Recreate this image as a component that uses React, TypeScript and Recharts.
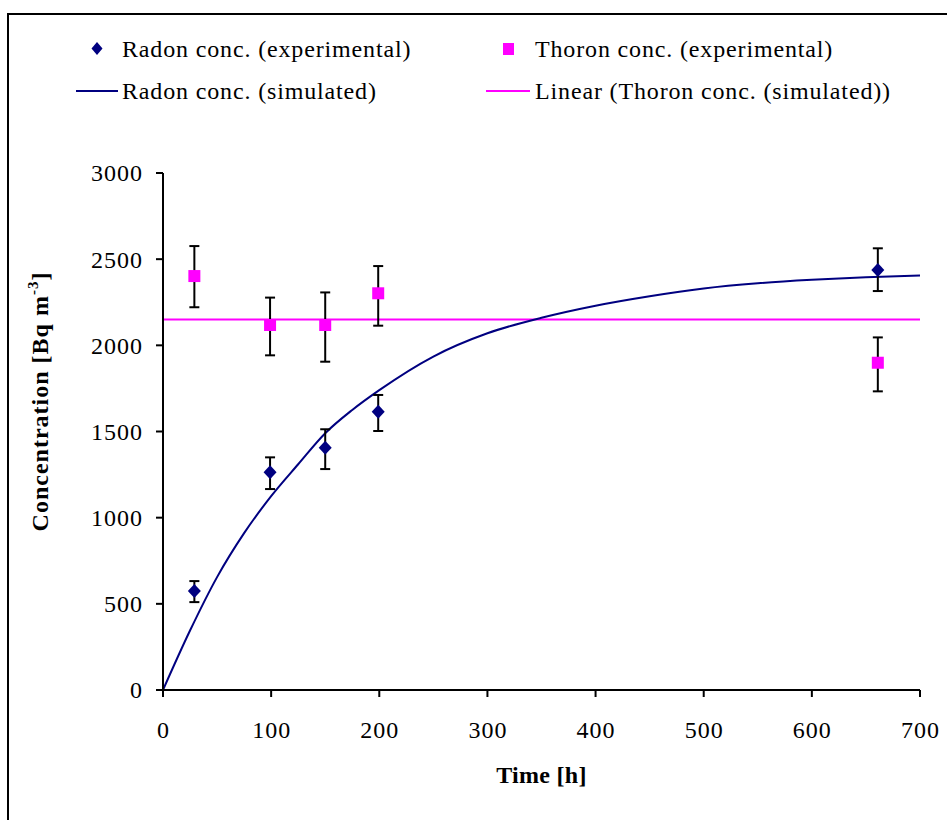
import React from 'react';
import { ComposedChart, Line, Scatter, XAxis, YAxis, ErrorBar, Legend } from 'recharts';

const FONT = '"Liberation Serif", "Times New Roman", Times, serif';
const NAVY = '#000080';
const MAGENTA = '#FF00FF';

// ---- data ----
const xTicks = [0, 100, 200, 300, 400, 500, 600, 700];
const yTicks = [0, 500, 1000, 1500, 2000, 2500, 3000];

const radonExpTime = [29, 99, 150, 199, 661];
const radonExpConc = [575, 1263, 1406, 1615, 2437];
const radonExpErrLow = [65, 97, 124, 112, 122];
const radonExpErrHigh = [57, 87, 107, 97, 126];

const thoronExpTime = [29, 99, 150, 199, 661];
const thoronExpConc = [2402, 2118, 2118, 2302, 1899];
const thoronExpErrLow = [181, 176, 213, 188, 166];
const thoronExpErrHigh = [174, 159, 189, 158, 147];

const radonSimTime = [0, 25, 50, 75, 100, 125, 150, 175, 200, 250, 300, 350, 400, 450, 500, 550, 600, 650, 700];
const radonSimConc = [0, 345, 655, 910, 1125, 1310, 1490, 1625, 1740, 1935, 2070, 2160, 2230, 2285, 2330, 2360, 2380, 2395, 2405];

const thoronLinTime = [0, 700];
const thoronLinConc = [2150, 2150];

const legendLabels = [
  'Radon conc. (experimental)',
  'Thoron conc. (experimental)',
  'Radon conc. (simulated)',
  'Linear (Thoron conc. (simulated))',
];

// ---- tables built from the arrays ----
const radonExp = radonExpTime.map((t, i) => ({ t, v: radonExpConc[i], err: [radonExpErrLow[i], radonExpErrHigh[i]] }));
const thoronExp = thoronExpTime.map((t, i) => ({ t, v: thoronExpConc[i], err: [thoronExpErrLow[i], thoronExpErrHigh[i]] }));
const radonSim = radonSimTime.map((t, i) => ({ t, v: radonSimConc[i] }));
const thoronLin = thoronLinTime.map((t, i) => ({ t, v: thoronLinConc[i] }));

const Diamond = (p: any) => {
  const { cx, cy } = p;
  if (cx == null || cy == null) return null;
  return <polygon points={`${cx},${cy - 7} ${cx + 6.5},${cy} ${cx},${cy + 7} ${cx - 6.5},${cy}`} fill={NAVY} />;
};
const Square = (p: any) => {
  const { cx, cy } = p;
  if (cx == null || cy == null) return null;
  return <rect x={cx - 6} y={cy - 6} width={12} height={12} fill={MAGENTA} />;
};

const YTick = (p: any) => (
  <text x={p.x} y={p.y} dy="0.35em" textAnchor="end" fontFamily={FONT} fontSize={24} fill="#000" letterSpacing={1}>
    {p.payload.value}
  </text>
);
const XTick = (p: any) => (
  <text x={p.x + 0.5} y={p.y + 39} textAnchor="middle" fontFamily={FONT} fontSize={24} fill="#000" letterSpacing={1}>
    {p.payload.value}
  </text>
);

const XTitle = (p: any) => {
  const vb = p.viewBox || { x: 163, y: 690, width: 757 };
  return (
    <text x={vb.x + vb.width / 2} y={vb.y + 93} textAnchor="middle" fontFamily={FONT} fontSize={24} fontWeight="bold" fill="#000" letterSpacing={0.3}>
      Time [h]
    </text>
  );
};
const YTitle = (p: any) => {
  const vb = p.viewBox || { x: 0, y: 173, width: 163, height: 517 };
  const cx = 48;
  const cy = vb.y + vb.height / 2 - 30;
  return (
    <text x={cx} y={cy} transform={`rotate(-90, ${cx}, ${cy})`} textAnchor="middle" fontFamily={FONT} fontSize={24} fontWeight="bold" fill="#000" letterSpacing={1}>
      Concentration [Bq m<tspan dy={-10} fontSize={15}>-3</tspan><tspan dy={10}>]</tspan>
    </text>
  );
};

const textStyle = { fontFamily: FONT, fontSize: 24, fill: '#000', letterSpacing: 0.85 } as const;

const LegendBox = () => (
  <svg width={947} height={120} style={{ display: 'block' }}>
    <polygon points="97,42 102.5,48.5 97,55 91.5,48.5" fill={NAVY} />
    <text x={122} y={57} {...textStyle}>{legendLabels[0]}</text>
    <rect x={503} y={43} width={11} height={12} fill={MAGENTA} />
    <text x={535} y={57} {...textStyle}>{legendLabels[1]}</text>
    <line x1={76} x2={118} y1={91} y2={91} stroke={NAVY} strokeWidth={2} />
    <text x={122} y={99} {...textStyle}>{legendLabels[2]}</text>
    <line x1={486} x2={530} y1={91} y2={91} stroke={MAGENTA} strokeWidth={2} />
    <text x={535} y={99} {...textStyle}>{legendLabels[3]}</text>
  </svg>
);

export default function App() {
  return (
    <div style={{ position: 'fixed', left: 0, top: 0, width: 947, height: 820, overflow: 'hidden', background: '#fff' }}>
      <div style={{ position: 'absolute', left: 7, top: 13, width: 2000, height: 2000, border: '2px solid #000', boxSizing: 'border-box' }} />
      <div style={{ position: 'absolute', left: 0, top: 0 }}>
        <ComposedChart width={947} height={820} margin={{ top: 173, right: 27, bottom: 70, left: 0 }}>
          <XAxis
            type="number"
            dataKey="t"
            domain={[0, 700]}
            ticks={xTicks}
            interval={0}
            allowDataOverflow
            stroke="#000"
            strokeWidth={2}
            tickSize={7}
            tickMargin={2}
            height={60}
            tick={<XTick />}
            tickLine={{ stroke: '#000', strokeWidth: 2 }}
            label={<XTitle />}
          />
          <YAxis
            type="number"
            domain={[0, 3000]}
            ticks={yTicks}
            interval={0}
            allowDataOverflow
            width={163}
            stroke="#000"
            strokeWidth={2}
            tickSize={7}
            tickMargin={13}
            tick={<YTick />}
            tickLine={{ stroke: '#000', strokeWidth: 2 }}
            label={<YTitle />}
          />
          <Legend
            layout="vertical"
            verticalAlign="middle"
            align="center"
            content={() => <LegendBox />}
            wrapperStyle={{ position: 'absolute', left: 0, top: 0, width: 947, height: 120 }}
          />
          <Line data={thoronLin} dataKey="v" stroke={MAGENTA} strokeWidth={2} dot={false} isAnimationActive={false} legendType="none" />
          <Line data={radonSim} dataKey="v" type="monotone" stroke={NAVY} strokeWidth={2} dot={false} isAnimationActive={false} legendType="none" />
          <Scatter data={radonExp} dataKey="v" shape={<Diamond />} isAnimationActive={false} legendType="none">
            <ErrorBar dataKey="err" direction="y" width={5} stroke="#000" strokeWidth={2} isAnimationActive={false} />
          </Scatter>
          <Scatter data={thoronExp} dataKey="v" shape={<Square />} isAnimationActive={false} legendType="none">
            <ErrorBar dataKey="err" direction="y" width={5} stroke="#000" strokeWidth={2} isAnimationActive={false} />
          </Scatter>
        </ComposedChart>
      </div>
    </div>
  );
}
